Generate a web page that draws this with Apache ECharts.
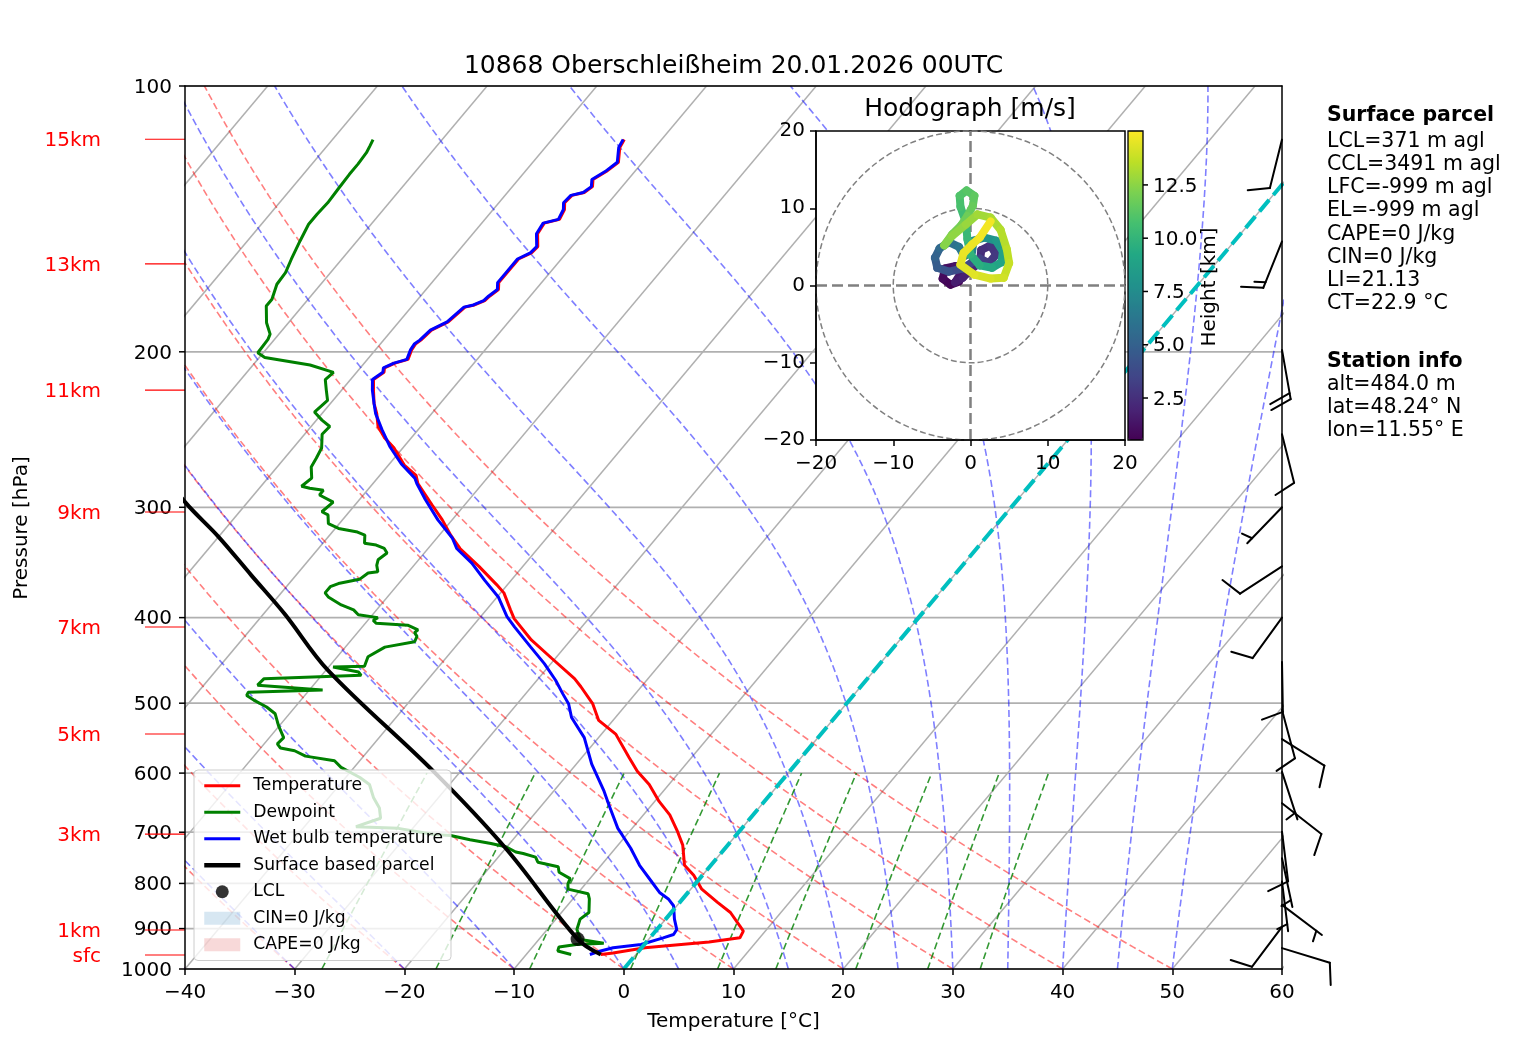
<!DOCTYPE html>
<html>
<head>
<meta charset="utf-8">
<title>Skew-T 10868</title>
<script src="https://cdn.jsdelivr.net/npm/echarts@6.0.0/dist/echarts.min.js"></script>
<style>
html, body { margin: 0; padding: 0; background: #fff; }
#chart { width: 1517px; height: 1054px; }
</style>
</head>
<body>
<div id="chart"></div>
<script>
// sounding 10868 Oberschleissheim 20.01.2026 00UTC (hPa / degC)
var tempP = [963, 959, 946, 932, 922, 906, 894, 863, 840, 812, 783, 763, 724, 699, 669, 646, 618, 597, 576, 542,
  523, 501, 479, 469, 445, 424, 401, 392, 375, 367, 350, 334, 323, 310, 298, 282, 276, 269, 257, 250,
  243, 235, 229, 221, 215, 211, 208.5, 206, 204, 199, 196, 194, 189, 185, 178, 177, 175, 173, 170, 167,
  163, 157, 154.5, 152, 147, 143, 141.6, 138, 135.6, 133, 132, 130, 127.6, 125, 122, 117.4, 115];
var tempT = [-3.2, -2.2, 0.3, 5.7, 8.2, 8.0, 7.3, 5.4, 3.4, 1.0, -0.8, -2.4, -4.1, -5.6, -7.6, -9.6, -11.8, -13.9, -15.7, -18.7,
  -21.3, -23.1, -25.5, -26.7, -30.3, -33.6, -36.8, -37.8, -39.7, -41.0, -44.0, -47.1, -48.9, -50.9, -53.0, -55.9, -56.7, -58.5, -60.8, -62.5,
  -63.9, -65.0, -66.0, -67.1, -67.9, -67.5, -67.8, -67.2, -66.3, -66.7, -66.8, -66.6, -66.4, -65.5, -65.1, -64.4, -63.8, -63.7, -63.4, -63.9,
  -63.9, -63.9, -63.2, -63.1, -64.1, -64.3, -63.2, -63.5, -64.0, -63.9, -63.0, -62.7, -63.2, -62.6, -62.2, -63.2, -63.4];

var wetbulbP = [963, 954, 946, 938, 922, 914, 902, 878, 848, 833, 819, 797, 763, 730, 705, 693, 652, 629, 586, 547,
  519, 501, 488, 471, 451, 432, 410, 399, 379, 363, 347, 334, 325, 310, 294, 282, 278, 268, 256, 245,
  235, 229, 221, 215, 211, 208.5, 206, 204, 199, 196, 194, 189, 185, 178, 177, 175, 173, 170, 167, 163,
  157, 154.5, 152, 147, 143, 141.6, 138, 135.6, 133, 132, 130, 127.6, 125, 122, 117.4, 115];
var wetbulbT = [-4.2, -3.5, -2.6, -0.3, 1.2, 1.9, 1.8, 0.8, -0.3, -1.3, -2.6, -4.1, -6.5, -8.6, -10.4, -11.3, -13.9, -15.4, -18.6, -21.3,
  -24.0, -25.3, -26.6, -28.3, -30.6, -33.1, -36.1, -37.6, -39.9, -42.4, -44.9, -47.4, -48.6, -51.3, -54.0, -56.0, -56.6, -58.9, -61.3, -63.3,
  -65.1, -66.0, -67.2, -68.0, -67.6, -67.9, -67.3, -66.4, -66.8, -66.9, -66.7, -66.5, -65.6, -65.2, -64.5, -63.9, -63.8, -63.5, -64.0, -64.0,
  -64.0, -63.3, -63.2, -64.2, -64.4, -63.3, -63.6, -64.1, -64.0, -63.1, -62.8, -63.3, -62.7, -62.3, -63.3, -63.5];

var dewP = [963, 954, 944, 938, 935, 926, 902, 878, 863, 833, 822, 812, 801, 790, 777, 766, 757, 747, 740, 737,
  727, 721, 714, 706, 704, 693, 690, 675, 657, 640, 618, 607, 591, 581, 574, 566, 562, 556, 547, 530,
  514, 505, 496, 490, 486, 483, 477, 469, 465, 461, 455, 454, 443, 432, 426, 420, 416, 413, 408, 406,
  403, 400, 397, 392, 387, 379, 375, 369, 366, 362, 356, 355, 349, 344, 338, 334, 331, 329.5, 322.5, 320,
  317, 313, 306, 303.5, 296, 290.5, 287, 285.5, 284, 278, 270, 264, 257, 248, 243, 239, 234, 227, 221, 215,
  211, 207, 203, 200.5, 193.6, 191, 185.4, 177.5, 174.4, 167.7, 162.7, 157.1, 149.8, 143.4, 139.7, 135.6, 130.9, 125.9, 122.6, 119,
  116.9, 115];
var dewT = [-5.9, -7.4, -7.6, -6.2, -3.8, -6.2, -7.3, -7.8, -7.5, -8.5, -9.0, -11.2, -11.6, -11.8, -13.3, -13.8, -16.0, -16.6, -18.0, -18.8,
  -20.1, -21.7, -23.9, -26.0, -27.6, -31.3, -35.3, -33.7, -34.6, -35.9, -37.3, -38.7, -41.2, -42.3, -45.3, -46.7, -48.2, -48.8, -48.7, -50.1,
  -51.3, -52.6, -54.3, -55.3, -55.4, -48.8, -55.1, -55.0, -46.4, -46.9, -49.6, -46.8, -47.2, -46.4, -44.1, -44.3, -44.8, -44.7, -46.0, -49.0,
  -49.5, -49.3, -51.3, -52.1, -53.6, -55.4, -56.0, -56.0, -55.5, -53.9, -53.6, -52.8, -53.4, -53.7, -53.4, -54.0, -55.0, -56.2, -56.8, -57.7,
  -59.7, -61.0, -61.7, -62.5, -62.2, -64.0, -64.0, -65.4, -66.3, -66.0, -66.9, -67.1, -67.4, -68.4, -68.3, -69.5, -70.8, -70.5, -71.4, -72.3,
  -72.1, -74.8, -79.5, -80.5, -80.6, -80.8, -82.0, -83.3, -83.3, -84.0, -84.1, -84.6, -85.2, -85.7, -85.7, -85.6, -85.7, -85.8, -85.8, -85.9,
  -86.1, -86.3];

var parcelP = [963, 925, 730, 597, 459, 396, 358, 324, 296, 260];
var parcelT = [-3.2, -6.5, -20.0, -32.5, -49.8, -58.1, -64.1, -70.0, -75.7, -83.0];
var lclP = [925];
var lclT = [-6.5];

// wind barbs: pressure, speed (m/s), direction (deg)
var windP = [115, 150, 199, 248, 300, 350, 400, 449, 509, 549, 598, 649, 699, 749, 796, 846, 896, 947];
var windSpd = [10, 15, 20, 10, 5, 10, 10, 10, 10, 10, 5, 10, 10, 5, 5, 5, 10, 10];
var windDir = [194, 202, 170, 166, 224, 237, 216, 179, 165, 122, 162, 128, 173, 168, 173, 127, 217, 107];

// hodograph: u, v (m/s), height (km)
var hodoU = [-1.5, -2.6, -3.6, -3.3, -2.0, -1.3, -2.0, -1.0, 0.0, 1.2, 1.4, 2.6, 3.3, 2.4, 1.2, 0.2, -1.0, -2.8, -4.3, -4.6,
  -4.0, -2.8, -1.5, -0.8, 0.2, 0.4, 1.8, 3.3, 4.2, 4.0, 2.8, 1.2, 0.0, -0.4, -0.6, -1.3, -1.4, -0.5, 0.5, 0.3,
  -0.4, -1.2, -2.4, -3.4, -2.4, -0.6, 0.9, 2.6, 3.9, 4.7, 5.0, 4.3, 2.6, 0.5, -1.3, -0.9, 0.2, 1.2, 2.6];
var hodoV = [0.5, 0.1, 0.9, 2.2, 2.5, 1.5, 0.4, 1.0, 2.0, 3.0, 4.6, 5.2, 4.0, 2.9, 3.5, 3.0, 2.2, 1.8, 2.3, 3.6,
  4.8, 5.6, 5.0, 3.8, 4.4, 5.8, 6.2, 5.8, 4.4, 3.0, 2.3, 2.6, 4.0, 6.0, 8.2, 10.2, 11.6, 12.3, 11.6, 10.3,
  9.0, 7.8, 6.6, 5.2, 6.4, 7.9, 9.2, 8.8, 7.2, 4.7, 2.9, 1.0, 0.9, 1.4, 2.7, 4.2, 5.3, 6.2, 8.3];
var hodoH = [0.53, 0.7, 0.9, 1.1, 1.3, 1.5, 1.7, 1.9, 2.1, 2.3, 2.5, 2.7, 2.9, 3.1, 3.3, 3.6, 3.9, 4.3, 4.7, 5.1,
  5.5, 5.9, 6.3, 6.7, 7.1, 7.5, 7.9, 8.3, 8.7, 9.0, 9.3, 9.6, 9.9, 10.2, 10.5, 10.8, 11.0, 11.2, 11.4, 11.6,
  11.8, 12.0, 12.2, 12.4, 12.6, 12.8, 13.0, 13.2, 13.4, 13.6, 13.8, 14.0, 14.2, 14.4, 14.5, 14.6, 14.7, 14.8, 15.03];

// ticks, labels and reference lines
var pressureTicks = [100, 200, 300, 400, 500, 600, 700, 800, 900, 1000];
var heightLabels = ['15km', '13km', '11km', '9km', '7km', '5km', '3km', '1km', 'sfc'];
var heightP = [114.9, 159, 221, 303.7, 409.9, 541.8, 703.3, 903.3, 964.1];
var cbarTicks = [2.5, 5, 7.5, 10, 12.5];
var dryTheta = [-40, -30, -20, -10, 0, 10, 20, 30, 40, 50];
var moistT0 = [-40, -30, -20, -10, 0, 5, 10, 15, 20, 25, 30, 35, 40, 45, 50];
var mixRatios = [0.0004, 0.001, 0.002, 0.004, 0.007, 0.01, 0.016, 0.024, 0.032];
var parcelInfo = ['LCL=371 m agl', 'CCL=3491 m agl', 'LFC=-999 m agl', 'EL=-999 m agl', 'CAPE=0 J/kg', 'CIN=0 J/kg', 'LI=21.13', 'CT=22.9 °C'];
var stationInfo = ['alt=484.0 m', 'lat=48.24° N', 'lon=11.55° E'];

var FONT = 'DejaVu Sans';
var viridis = ['#440154', '#482475', '#414487', '#355f8d', '#2a788e', '#21918c', '#22a884', '#44bf70', '#7ad151', '#bddf26', '#fde725'];

// skew of the isotherms: 40 deg in screen space of the 1097x883 plot box
var SKEW = Math.tan(40 * Math.PI / 180) * 883 / 1097 * 100;
function skewX(t, p) { return t + SKEW * Math.log10(1000 / p); }
function minus(v) { return v < 0 ? '\u2212' + Math.abs(v) : String(v); }
function logSteps(p0, p1, n) {
    var out = [];
    for (var i = 0; i <= n; i++) out.push(p0 * Math.pow(p1 / p0, i / n));
    return out;
}
function moistSlope(T, p) {
    var es = 6.112 * Math.exp(17.67 * (T - 273.15) / (T - 29.65));
    var rs = 0.62196 * es / (p - es);
    return (287.04 * T + 2.501e6 * rs) / (1004.67 + 2.501e6 * 2.501e6 * rs * 0.62196 / (287.04 * T * T));
}
function moistLine(t0) {
    var pts = [], T = t0 + 273.15, lnp = Math.log(1000), n = 60, h = (Math.log(100) - lnp) / n;
    for (var i = 0; i <= n; i++) {
        var p = Math.exp(lnp);
        pts.push([skewX(T - 273.15, p), p]);
        var ph = Math.exp(lnp + h / 2), pe = Math.exp(lnp + h);
        var k1 = moistSlope(T, p), k2 = moistSlope(T + h * k1 / 2, ph),
            k3 = moistSlope(T + h * k2 / 2, ph), k4 = moistSlope(T + h * k3, pe);
        T += h * (k1 + 2 * k2 + 2 * k3 + k4) / 6;
        lnp += h;
    }
    return pts;
}
function txt(x, y, text, size, opts) {
    opts = opts || {};
    return {
        type: 'text', x: x, y: y + (opts.rotation ? 0 : 1.5), z: 20, rotation: opts.rotation || 0, silent: true,
        style: {
            text: text, fill: opts.color || '#000',
            font: (opts.bold ? 'bold ' : '') + size + 'px ' + FONT,
            align: opts.align || 'left', textAlign: opts.align || 'left',
            verticalAlign: 'middle', textVerticalAlign: 'middle'
        }
    };
}

var series = [];
function addLine(pts, color, width, dash, z) {
    series.push({
        type: 'line', data: pts, symbol: 'none', clip: true, silent: true, z: z,
        lineStyle: { color: color, width: width, type: dash }
    });
}

// isotherms (grid)
for (var t = -100; t <= 60; t += 10) {
    addLine([[skewX(t, 1000), 1000], [skewX(t, 100), 100]], '#b0b0b0', 1.5, 'solid', 1);
}
dryTheta.forEach(function (th) {
    var k = th + 273.15;
    addLine(logSteps(1000, 100, 40).map(function (p) {
        return [skewX(k * Math.pow(p / 1000, 0.2857) - 273.15, p), p];
    }), 'rgba(255,0,0,0.5)', 1.6, [7, 3.5], 2);
});
moistT0.forEach(function (t0) {
    addLine(moistLine(t0), 'rgba(0,0,255,0.5)', 1.6, [7, 3.5], 2);
});
mixRatios.forEach(function (w) {
    addLine(logSteps(1000, 600, 10).map(function (p) {
        var l = Math.log(p * w / (0.622 + w) / 6.112);
        return [skewX(243.5 * l / (17.67 - l), p), p];
    }), 'rgba(0,128,0,0.8)', 1.6, [7, 3.5], 2);
});

// pressure grid, ticks and labels
series.push({
    type: 'custom', silent: true, z: 1, clip: false,
    data: pressureTicks.map(function (p) { return [-40, p]; }),
    renderItem: function (params, api) {
        var p = api.value(1), a = api.coord([-40, p]), b = api.coord([60, p]);
        return {
            type: 'group', children: [
                { type: 'line', shape: { x1: a[0], y1: a[1], x2: b[0], y2: b[1] }, style: { stroke: '#b0b0b0', lineWidth: 1.7 } },
                { type: 'line', shape: { x1: a[0] - 6, y1: a[1], x2: a[0], y2: a[1] }, style: { stroke: '#000', lineWidth: 1.5 } },
                txt(a[0] - 13, a[1], String(p), 20, { align: 'right' })
            ]
        };
    }
});
// height marks
series.push({
    type: 'custom', silent: true, z: 1, clip: false,
    data: heightP.map(function (p) { return [-40, p]; }),
    renderItem: function (params, api) {
        var a = api.coord([-40, api.value(1)]);
        return {
            type: 'group', children: [
                { type: 'line', shape: { x1: a[0] - 40, y1: a[1], x2: a[0], y2: a[1] }, style: { stroke: '#ff0000', lineWidth: 1.2 } },
                txt(a[0] - 84, a[1], heightLabels[params.dataIndex], 20, { align: 'right', color: '#ff0000' })
            ]
        };
    }
});

function skewed(P, T) { return P.map(function (p, i) { return [skewX(T[i], p), p]; }); }
series.push({ name: 'Temperature', type: 'line', data: skewed(tempP, tempT), symbol: 'none', clip: true, z: 5, lineStyle: { color: '#ff0000', width: 3 }, itemStyle: { color: '#ff0000' } });
series.push({ name: 'Dewpoint', type: 'line', data: skewed(dewP, dewT), symbol: 'none', clip: true, z: 5, lineStyle: { color: '#008000', width: 3 }, itemStyle: { color: '#008000' } });
series.push({ name: 'Wet bulb temperature', type: 'line', data: skewed(wetbulbP, wetbulbT), symbol: 'none', clip: true, z: 5, lineStyle: { color: '#0000ff', width: 3 }, itemStyle: { color: '#0000ff' } });
series.push({ name: 'Surface based parcel', type: 'line', data: skewed(parcelP, parcelT), symbol: 'none', smooth: 0.35, clip: true, z: 5, lineStyle: { color: '#000', width: 4 }, itemStyle: { color: '#000' } });
series.push({ name: 'LCL', type: 'scatter', data: skewed(lclP, lclT), symbol: 'circle', symbolSize: 14, z: 7, itemStyle: { color: '#000' } });
series.push({ name: 'CIN=0 J/kg', type: 'scatter', data: [], itemStyle: { color: 'rgba(31,119,180,0.22)' } });
series.push({ name: 'CAPE=0 J/kg', type: 'scatter', data: [], itemStyle: { color: 'rgba(214,39,40,0.22)' } });
// 0 degC isotherm
addLine([[skewX(0, 1000), 1000], [skewX(0, 100), 100]], '#00bfbf', 4, [15, 6.5], 6);

// wind barbs on the right spine
series.push({
    type: 'custom', silent: true, z: 6, clip: false,
    data: windP.map(function (p) { return [60, p]; }),
    renderItem: function (params, api) {
        var i = params.dataIndex, base = api.coord([60, api.value(1)]);
        var d = windDir[i] * Math.PI / 180, sx = Math.sin(d), sy = -Math.cos(d);
        var L = 50, tip = [base[0] + sx * L, base[1] + sy * L], px = -sy, py = sx;
        var st = { stroke: '#000', lineWidth: 2, lineCap: 'round' };
        var kids = [{ type: 'line', shape: { x1: base[0], y1: base[1], x2: tip[0], y2: tip[1] }, style: st }];
        var full = Math.floor(windSpd[i] / 10), half = Math.round((windSpd[i] - full * 10) / 5);
        var off = (full === 0 && half) ? 7 : 0;
        function feather(len) {
            var x0 = tip[0] - sx * off, y0 = tip[1] - sy * off;
            kids.push({ type: 'line', shape: { x1: x0, y1: y0, x2: x0 + px * len + sx * len * 0.35, y2: y0 + py * len + sy * len * 0.35 }, style: st });
            off += 6;
        }
        for (var k = 0; k < full; k++) feather(21);
        if (half) feather(10.5);
        return { type: 'group', children: kids };
    }
});

// hodograph rings and axes lines
series.push({
    type: 'custom', silent: true, z: 11, clip: false, xAxisIndex: 2, yAxisIndex: 2,
    data: [[0, 0, 10], [0, 0, 20]],
    renderItem: function (params, api) {
        var c = api.coord([0, 0]), r = api.size([api.value(2), 0])[0];
        var kids = [{ type: 'circle', shape: { cx: c[0], cy: c[1], r: r }, style: { fill: 'none', stroke: '#808080', lineWidth: 1.5, lineDash: [6, 3] } }];
        if (params.dataIndex === 1) {
            var a = api.coord([-20, 0]), b = api.coord([20, 0]), e = api.coord([0, -20]), f = api.coord([0, 20]);
            kids.push({ type: 'line', shape: { x1: a[0], y1: a[1], x2: b[0], y2: b[1] }, style: { stroke: '#808080', lineWidth: 2.5, lineDash: [11, 5] } });
            kids.push({ type: 'line', shape: { x1: e[0], y1: e[1], x2: f[0], y2: f[1] }, style: { stroke: '#808080', lineWidth: 2.5, lineDash: [11, 5] } });
        }
        return { type: 'group', children: kids };
    }
});
var hodoSegs = [];
for (var i = 0; i < hodoU.length - 1; i++) hodoSegs.push([hodoU[i], hodoV[i], hodoH[i], hodoU[i + 1], hodoV[i + 1]]);
var hodoIndex = series.length;
series.push({
    type: 'custom', silent: true, z: 12, clip: false, xAxisIndex: 2, yAxisIndex: 2,
    data: hodoSegs,
    renderItem: function (params, api) {
        var a = api.coord([api.value(0), api.value(1)]), b = api.coord([api.value(3), api.value(4)]);
        return { type: 'line', shape: { x1: a[0], y1: a[1], x2: b[0], y2: b[1] }, style: { stroke: api.visual('color'), lineWidth: 8, lineCap: 'round' } };
    }
});
// colorbar ticks
series.push({
    type: 'custom', silent: true, z: 13, clip: false, xAxisIndex: 3, yAxisIndex: 3,
    data: cbarTicks.map(function (v) { return [1, v]; }),
    renderItem: function (params, api) {
        var a = api.coord([1, api.value(1)]);
        return {
            type: 'group', children: [
                { type: 'line', shape: { x1: a[0], y1: a[1], x2: a[0] + 5, y2: a[1] }, style: { stroke: '#000', lineWidth: 1.5 } },
                txt(a[0] + 10, a[1], api.value(1).toFixed(1), 20)
            ]
        };
    }
});

var axisStyle = { color: '#000', width: 1.5 };
var graphics = [
    { type: 'rect', z: 10, silent: true, shape: { x: 816, y: 131, width: 309, height: 309 }, style: { fill: '#fff', stroke: '#000', lineWidth: 1.5 } },
    { type: 'rect', z: 14, silent: true, shape: { x: 1128, y: 131, width: 15, height: 309 }, style: { fill: 'none', stroke: '#000', lineWidth: 1.3 } },
    txt(733.5, 65, '10868 Oberschleißheim 20.01.2026 00UTC', 25, { align: 'center' }),
    txt(970, 108, 'Hodograph [m/s]', 25, { align: 'center' }),
    txt(733.5, 1020, 'Temperature [°C]', 20, { align: 'center' }),
    txt(22, 528, 'Pressure [hPa]', 20, { align: 'center', rotation: Math.PI / 2 }),
    txt(1210, 287, 'Height [km]', 20, { align: 'center', rotation: Math.PI / 2 }),
    txt(1327, 114, 'Surface parcel', 20.5, { bold: true }),
    txt(1327, 360, 'Station info', 20.5, { bold: true })
];
parcelInfo.forEach(function (s, i) { graphics.push(txt(1327, 140 + i * 23.2, s, 20.5)); });
stationInfo.forEach(function (s, i) { graphics.push(txt(1327, 383 + i * 23.2, s, 20.5)); });

function lineKey(name, color, width) {
    return { name: name, itemStyle: { opacity: 0 }, lineStyle: { color: color, width: width, type: 'solid' } };
}
var chart = echarts.init(document.getElementById('chart'));
chart.setOption({
    animation: false,
    backgroundColor: '#fff',
    grid: [
        { left: 185, top: 86, width: 1097, height: 883 },
        { left: 816, top: 131, width: 309, height: 309 },
        { left: 1128, top: 131, width: 15, height: 309 }
    ],
    xAxis: [
        { gridIndex: 0, type: 'value', min: -40, max: 60, interval: 10, position: 'bottom', z: 7,
          axisLine: { onZero: false, lineStyle: axisStyle }, axisTick: { length: 6, lineStyle: axisStyle },
          axisLabel: { fontFamily: FONT, fontSize: 20, color: '#000', margin: 14, formatter: minus }, splitLine: { show: false } },
        { gridIndex: 0, type: 'value', min: -40, max: 60, position: 'top', z: 7,
          axisLine: { onZero: false, lineStyle: axisStyle }, axisTick: { show: false }, axisLabel: { show: false }, splitLine: { show: false } },
        { gridIndex: 1, type: 'value', min: -20, max: 20, interval: 10, position: 'bottom', z: 12,
          axisLine: { onZero: false, lineStyle: axisStyle }, axisTick: { length: 6, lineStyle: axisStyle },
          axisLabel: { fontFamily: FONT, fontSize: 20, color: '#000', margin: 14, formatter: minus }, splitLine: { show: false } },
        { gridIndex: 2, type: 'value', min: 0, max: 1, show: false }
    ],
    yAxis: [
        { gridIndex: 0, type: 'log', logBase: 10, min: 100, max: 1000, inverse: true, position: 'left', z: 7,
          axisLine: { onZero: false, lineStyle: axisStyle }, axisTick: { show: false }, axisLabel: { show: false }, splitLine: { show: false } },
        { gridIndex: 0, type: 'log', logBase: 10, min: 100, max: 1000, inverse: true, position: 'right', z: 7,
          axisLine: { onZero: false, lineStyle: axisStyle }, axisTick: { show: false }, axisLabel: { show: false }, splitLine: { show: false } },
        { gridIndex: 1, type: 'value', min: -20, max: 20, interval: 10, position: 'left', z: 12,
          axisLine: { onZero: false, lineStyle: axisStyle }, axisTick: { length: 6, lineStyle: axisStyle },
          axisLabel: { fontFamily: FONT, fontSize: 20, color: '#000', margin: 11, formatter: minus }, splitLine: { show: false } },
        { gridIndex: 2, type: 'value', min: 0.53, max: 15.03, show: false }
    ],
    visualMap: {
        type: 'continuous', seriesIndex: hodoIndex, dimension: 2, min: 0.53, max: 15.03,
        inRange: { color: viridis }, left: 1128, top: 131, itemWidth: 15, itemHeight: 309,
        text: ['', ''], calculable: false, hoverLink: false, padding: 0, z: 12
    },
    legend: {
        data: [
            lineKey('Temperature', '#ff0000', 3), lineKey('Dewpoint', '#008000', 3),
            lineKey('Wet bulb temperature', '#0000ff', 3), lineKey('Surface based parcel', '#000', 4.5),
            { name: 'LCL', icon: 'circle' },
            { name: 'CIN=0 J/kg', icon: 'rect' }, { name: 'CAPE=0 J/kg', icon: 'rect' }
        ],
        orient: 'vertical', left: 194, top: 770, itemWidth: 36, itemHeight: 13, itemGap: 9,
        padding: [7, 8, 7, 8], backgroundColor: 'rgba(255,255,255,0.8)', borderColor: '#cccccc',
        borderWidth: 1, borderRadius: 4, selectedMode: false, z: 8,
        textStyle: { fontFamily: FONT, fontSize: 17.2, color: '#000', lineHeight: 17.5, padding: [0, 0, 0, 8] }
    },
    graphic: graphics,
    series: series
});
</script>
</body>
</html>
